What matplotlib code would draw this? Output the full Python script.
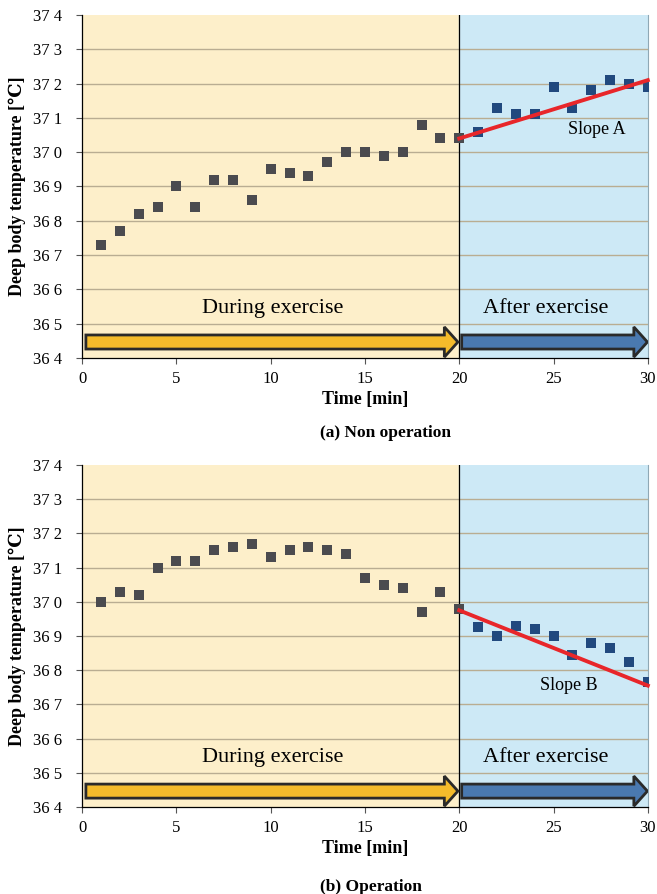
import numpy as np
import matplotlib.pyplot as plt
from matplotlib.patches import FancyArrow

plt.rcParams.update({'font.family': ['Liberation Serif', 'DejaVu Serif']})

# Data
time_min = list(range(1, 31))
temp_non_operation = [36.73, 36.77, 36.82, 36.84, 36.90, 36.84, 36.92, 36.92, 36.86, 36.95,
                      36.94, 36.93, 36.97, 37.00, 37.00, 36.99, 37.00, 37.08, 37.04, 37.04,
                      37.06, 37.13, 37.11, 37.11, 37.19, 37.13, 37.18, 37.21, 37.20, 37.19]
temp_operation = [37.00, 37.03, 37.02, 37.10, 37.12, 37.12, 37.15, 37.16, 37.17, 37.13,
                  37.15, 37.16, 37.15, 37.14, 37.07, 37.05, 37.04, 36.97, 37.03, 36.98,
                  36.925, 36.90, 36.93, 36.92, 36.90, 36.845, 36.88, 36.865, 36.825, 36.765]
# end points of the slope lines drawn after exercise (t = 20 and t = 30)
slope_a_ends = [37.04, 37.21]
slope_b_ends = [36.975, 36.755]
y_ticks = [36.4, 36.5, 36.6, 36.7, 36.8, 36.9, 37.0, 37.1, 37.2, 37.3, 37.4]
y_tick_labels = ['36 4', '36 5', '36 6', '36 7', '36 8', '36 9', '37 0', '37 1', '37 2', '37 3', '37 4']
x_ticks = [0, 5, 10, 15, 20, 25, 30]
exercise_end = 20

c_during_bg = '#fdefca'
c_after_bg = '#cde9f6'
c_gray = '#4b4b4f'
c_blue = '#21497e'


def draw_panel(ax, temps, slope_ends, slope_label, slope_pos):
    t = np.array(time_min)
    y = np.array(temps)

    ax.axvspan(0, exercise_end, color=c_during_bg, zorder=0)
    ax.axvspan(exercise_end, 30, color=c_after_bg, zorder=0)
    for v in y_ticks[1:-1]:
        ax.axhline(v, color='#b9ad92', lw=1.0, zorder=1)
    ax.axvline(exercise_end, color='black', lw=0.9, zorder=2)

    during = t <= exercise_end
    ax.scatter(t[during], y[during], marker='s', s=62, color=c_gray, zorder=4, linewidths=0)
    ax.scatter(t[~during], y[~during], marker='s', s=62, color=c_blue, zorder=4, linewidths=0)

    ax.plot([exercise_end, 30], slope_ends, color='#e8262a', lw=2.8, zorder=5, clip_on=False)

    ax.text(slope_pos[0], slope_pos[1], slope_label, fontsize=13, ha='center', va='center', zorder=6)
    ax.text(10.1, 36.545, 'During exercise', fontsize=16, ha='center', va='center', zorder=6)
    ax.text(24.6, 36.545, 'After exercise', fontsize=16, ha='center', va='center', zorder=6)

    ax.add_patch(FancyArrow(0.2, 36.4465, 19.73, 0, width=0.041, head_width=0.088, head_length=0.72,
                            length_includes_head=True, facecolor='#f4bb2b', edgecolor='#2a2a2a',
                            lw=2, zorder=6))
    ax.add_patch(FancyArrow(20.13, 36.4465, 9.85, 0, width=0.041, head_width=0.088, head_length=0.72,
                            length_includes_head=True, facecolor='#4a79b0', edgecolor='#2a2a2a',
                            lw=2, zorder=6))

    ax.set_xlim(0, 30)
    ax.set_ylim(36.4, 37.4)
    ax.set_xticks(x_ticks)
    ax.set_yticks(y_ticks)
    ax.set_yticklabels(y_tick_labels)
    ax.tick_params(labelsize=12, length=4.5, direction='out', width=0.8, color='#555555')
    ax.tick_params(axis='y', pad=10)
    ax.tick_params(axis='x', pad=5)
    ax.spines['top'].set_visible(False)
    ax.spines['right'].set_color('#8fa8b5')
    ax.spines['left'].set_linewidth(0.9)
    ax.spines['bottom'].set_linewidth(0.9)
    ax.set_xlabel('Time [min]', fontsize=13, fontweight='bold', labelpad=3)
    ax.set_ylabel('Deep body temperature [℃]', fontsize=13, fontweight='bold', labelpad=5)


fig = plt.figure(figsize=(6.57, 8.94), dpi=100)
ax1 = fig.add_axes([0.125, 0.5996, 0.861, 0.3836])
ax2 = fig.add_axes([0.125, 0.0973, 0.861, 0.3826])

draw_panel(ax1, temp_non_operation, slope_a_ends, 'Slope A', (27.3, 37.065))
draw_panel(ax2, temp_operation, slope_b_ends, 'Slope B', (25.8, 36.755))

fig.text(320 / 657, 1 - 433 / 894, '(a) Non operation', ha='left', va='center', fontsize=12.5, fontweight='bold')
fig.text(320 / 657, 1 - 887 / 894, '(b) Operation', ha='left', va='center', fontsize=12.5, fontweight='bold')

fig.savefig('out.png', dpi=100)
